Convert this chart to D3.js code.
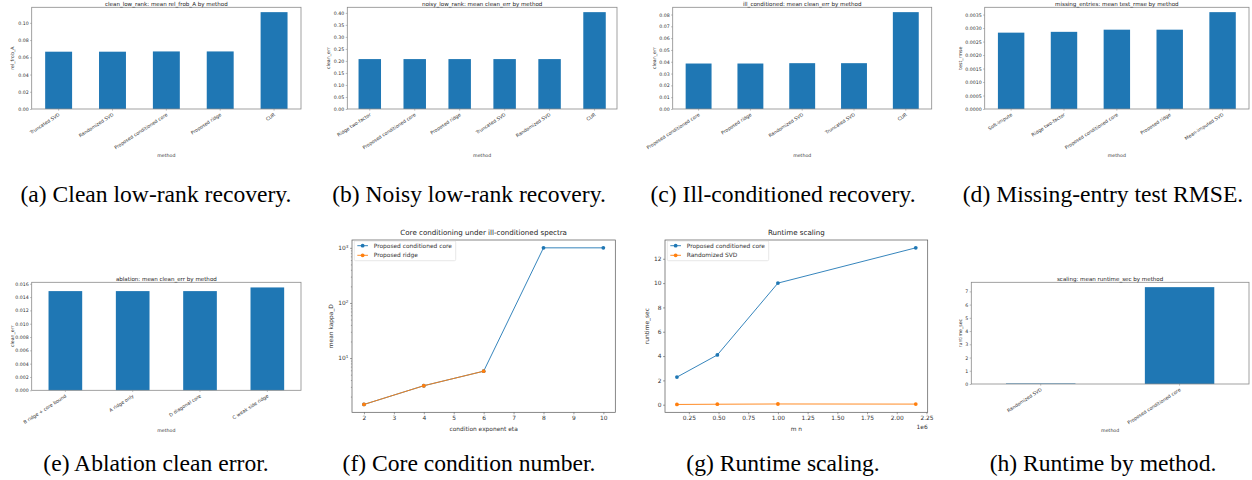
<!DOCTYPE html>
<html>
<head>
<meta charset="utf-8">
<script src="https://cdn.jsdelivr.net/npm/d3@7"></script>
<style>
  html, body { margin: 0; padding: 0; background: #fff; }
  svg { display: block; }
  .cap { font-family: "Liberation Serif", "Times New Roman", serif; font-size: 23.6px; fill: #000; }
</style>
</head>
<body>
<div id="fig"></div>
<script>
// ---- data ----
const cleanMethods = ["Truncated SVD", "Randomized SVD", "Proposed conditioned core", "Proposed ridge", "CUR"];
const cleanRelFrob = [0.0665, 0.0665, 0.0668, 0.0668, 0.1124];

const noisyMethods = ["Ridge two-factor", "Proposed conditioned core", "Proposed ridge", "Truncated SVD", "Randomized SVD", "CUR"];
const noisyCleanErr = [0.2077, 0.2077, 0.2077, 0.2077, 0.2077, 0.403];

const illMethods = ["Proposed conditioned core", "Proposed ridge", "Randomized SVD", "Truncated SVD", "CUR"];
const illCleanErr = [0.0385, 0.0385, 0.0388, 0.0388, 0.082];

const missingMethods = ["Soft-impute", "Ridge two-factor", "Proposed conditioned core", "Proposed ridge", "Mean-imputed SVD"];
const missingRmse = [0.00283, 0.00286, 0.00294, 0.00294, 0.00359];

const ablationMethods = ["B ridge + core bound", "A ridge only", "D diagonal core", "C weak side ridge"];
const ablationCleanErr = [0.0149, 0.0149, 0.0149, 0.01545];

const scalingMethods = ["Randomized SVD", "Proposed conditioned core"];
const scalingRuntime = [0.04, 7.32];

const etaValues = [2, 4, 6, 8, 10];
const kappaCore = [1.44, 3.15, 5.78, 1000, 1000];
const kappaRidge = [1.44, 3.15, 5.78];

const mnValues = [0.15e6, 0.49e6, 1.0e6, 2.16e6];
const runtimeCore = [2.27, 4.09, 10.0, 12.9];
const runtimeRsvd = [0.02, 0.04, 0.06, 0.05];

const captionsTop = ["(a) Clean low-rank recovery.", "(b) Noisy low-rank recovery.", "(c) Ill-conditioned recovery.", "(d) Missing-entry test RMSE."];
const captionsBottom = ["(e) Ablation clean error.", "(f) Core condition number.", "(g) Runtime scaling.", "(h) Runtime by method."];

const BLUE = "#1f77b4", ORANGE = "#ff7f0e";
const SANS = "DejaVu Sans, sans-serif";

const W = 1252, H = 480;
const svg = d3.select("#fig").append("svg").attr("width", W).attr("height", H);

// ---- small bar panels (pandas style) ----
function barPanel(o) {
  const g = svg.append("g");
  const f = o.frame;
  const x = d3.scaleBand().domain(o.cats).range([f.x0, f.x1])
    .paddingInner(0.5).paddingOuter(0.25);
  const y = d3.scaleLinear().domain([0, d3.max(o.vals) * 1.05]).range([f.y1, f.y0]);

  g.selectAll("rect.bar").data(o.cats).enter().append("rect")
    .attr("x", (d) => x(d))
    .attr("y", (d, i) => y(o.vals[i]))
    .attr("width", x.bandwidth())
    .attr("height", (d, i) => y(0) - y(o.vals[i]))
    .attr("fill", BLUE);

  const ticks = d3.range(0, o.tickMax + o.tickStep / 2, o.tickStep);
  const ya = g.append("g").attr("transform", `translate(${f.x0},0)`)
    .call(d3.axisLeft(y).tickValues(ticks).tickFormat(d3.format(o.fmt)).tickSize(1.6).tickPadding(1.4));
  ya.select(".domain").remove();
  ya.selectAll("line").attr("stroke", "#555").attr("stroke-width", 0.4);
  ya.selectAll("text").style("font-family", SANS).style("font-size", "4.7px").attr("fill", "#333");

  const xa = g.append("g").attr("transform", `translate(0,${f.y1})`)
    .call(d3.axisBottom(x).tickSize(1.6).tickFormat(""));
  xa.select(".domain").remove();
  xa.selectAll("line").attr("stroke", "#555").attr("stroke-width", 0.4);

  g.selectAll("text.xl").data(o.cats).enter().append("text")
    .attr("class", "xl")
    .attr("transform", (d) => `translate(${x(d) + x.bandwidth() / 2 + 1.5},${f.y1 + 6.5}) rotate(-33)`)
    .attr("text-anchor", "end")
    .style("font-family", SANS).style("font-size", "4.7px").attr("fill", "#333")
    .text((d) => d);

  g.append("rect").attr("x", f.x0).attr("y", f.y0)
    .attr("width", f.x1 - f.x0).attr("height", f.y1 - f.y0)
    .attr("fill", "none").attr("stroke", "#8a8a8a").attr("stroke-width", 0.8);

  g.append("text").attr("x", (f.x0 + f.x1) / 2).attr("y", f.y0 - 1.6)
    .attr("text-anchor", "middle")
    .style("font-family", SANS).style("font-size", "5.55px").attr("fill", "#222")
    .text(o.title);

  g.append("text").attr("x", (f.x0 + f.x1) / 2).attr("y", o.xlabelY)
    .attr("text-anchor", "middle")
    .style("font-family", SANS).style("font-size", "4.7px").attr("fill", "#333")
    .text("method");

  g.append("text")
    .attr("transform", `translate(${o.ylabelX},${(f.y0 + f.y1) / 2}) rotate(-90)`)
    .attr("text-anchor", "middle")
    .style("font-family", SANS).style("font-size", "4.7px").attr("fill", "#333")
    .text(o.ylabel);
}

barPanel({ title: "clean_low_rank: mean rel_frob_A by method", ylabel: "rel_frob_A",
  cats: cleanMethods, vals: cleanRelFrob, tickStep: 0.02, tickMax: 0.10, fmt: ".2f",
  frame: { x0: 31.7, x1: 301, y0: 7.3, y1: 109 }, xlabelY: 156.5, ylabelX: 14.3 });

barPanel({ title: "noisy_low_rank: mean clean_err by method", ylabel: "clean_err",
  cats: noisyMethods, vals: noisyCleanErr, tickStep: 0.05, tickMax: 0.40, fmt: ".2f",
  frame: { x0: 347.3, x1: 617, y0: 7.3, y1: 109 }, xlabelY: 156.5, ylabelX: 329.6 });

barPanel({ title: "ill_conditioned: mean clean_err by method", ylabel: "clean_err",
  cats: illMethods, vals: illCleanErr, tickStep: 0.01, tickMax: 0.08, fmt: ".2f",
  frame: { x0: 672.7, x1: 931.7, y0: 7.3, y1: 109 }, xlabelY: 156.5, ylabelX: 655.9 });

barPanel({ title: "missing_entries: mean test_rmse by method", ylabel: "test_rmse",
  cats: missingMethods, vals: missingRmse, tickStep: 0.0005, tickMax: 0.0035, fmt: ".4f",
  frame: { x0: 984.7, x1: 1249, y0: 7.3, y1: 109 }, xlabelY: 156.5, ylabelX: 962.3 });

barPanel({ title: "ablation: mean clean_err by method", ylabel: "clean_err",
  cats: ablationMethods, vals: ablationCleanErr, tickStep: 0.002, tickMax: 0.016, fmt: ".3f",
  frame: { x0: 31.7, x1: 301, y0: 282.3, y1: 390.3 }, xlabelY: 431.5, ylabelX: 14.3 });

barPanel({ title: "scaling: mean runtime_sec by method", ylabel: "runtime_sec",
  cats: scalingMethods, vals: scalingRuntime, tickStep: 1, tickMax: 7, fmt: "d",
  frame: { x0: 971.3, x1: 1249, y0: 282.3, y1: 384 }, xlabelY: 431.5, ylabelX: 962.3 });

// ---- line panels ----
function linePanel(o) {
  const g = svg.append("g");
  const f = o.frame;
  const FS = "5.9px";

  // matplotlib-like 5% margins
  const allX = o.series.flatMap((s) => s.x);
  const allY = o.series.flatMap((s) => s.y);
  const [xa0, xa1] = d3.extent(allX);
  const xm = (xa1 - xa0) * 0.05;
  const x = d3.scaleLinear().domain([xa0 - xm, xa1 + xm]).range([f.x0, f.x1]);
  let y;
  if (o.log) {
    const [l0, l1] = d3.extent(allY).map(Math.log10);
    const lm = (l1 - l0) * 0.05;
    y = d3.scaleLog().domain([10 ** (l0 - lm), 10 ** (l1 + lm)]).range([f.y1, f.y0]);
  } else {
    const [ya0, ya1] = d3.extent(allY);
    const ym = (ya1 - ya0) * 0.05;
    y = d3.scaleLinear().domain([ya0 - ym, ya1 + ym]).range([f.y1, f.y0]);
  }

  // x axis
  const xa = g.append("g").attr("transform", `translate(0,${f.y1})`)
    .call(d3.axisBottom(x).tickValues(o.xticks).tickFormat(o.xfmt).tickSize(2).tickPadding(1.6));
  xa.select(".domain").remove();
  xa.selectAll("line").attr("stroke", "#444").attr("stroke-width", 0.5);
  xa.selectAll("text").style("font-family", SANS).style("font-size", FS).attr("fill", "#333");

  // y axis
  if (o.log) {
    const [d0, d1] = y.domain();
    const minor = [];
    for (let e = Math.floor(Math.log10(d0)); e <= Math.ceil(Math.log10(d1)); e++) {
      for (let m = 2; m <= 9; m++) {
        const v = m * 10 ** e;
        if (v >= d0 && v <= d1) minor.push(v);
      }
    }
    const ym = g.append("g").attr("transform", `translate(${f.x0},0)`)
      .call(d3.axisLeft(y).tickValues(minor).tickFormat("").tickSize(1.1));
    ym.select(".domain").remove();
    ym.selectAll("line").attr("stroke", "#444").attr("stroke-width", 0.4);

    const major = o.yticks;
    const yaM = g.append("g").attr("transform", `translate(${f.x0},0)`)
      .call(d3.axisLeft(y).tickValues(major).tickFormat("").tickSize(2));
    yaM.select(".domain").remove();
    yaM.selectAll("line").attr("stroke", "#444").attr("stroke-width", 0.5);
    const lbl = g.selectAll("text.ylog").data(major).enter().append("text")
      .attr("class", "ylog")
      .attr("x", f.x0 - 3.6).attr("y", (d) => y(d) + 2.1)
      .attr("text-anchor", "end")
      .style("font-family", SANS).style("font-size", FS).attr("fill", "#333");
    lbl.append("tspan").text("10");
    lbl.append("tspan").attr("dy", -2.4).style("font-size", "4.2px")
      .text((d) => Math.round(Math.log10(d)));
  } else {
    const ya = g.append("g").attr("transform", `translate(${f.x0},0)`)
      .call(d3.axisLeft(y).tickValues(o.yticks).tickFormat(d3.format("d")).tickSize(2).tickPadding(1.6));
    ya.select(".domain").remove();
    ya.selectAll("line").attr("stroke", "#444").attr("stroke-width", 0.5);
    ya.selectAll("text").style("font-family", SANS).style("font-size", FS).attr("fill", "#333");
  }

  // series
  const line = d3.line().x((d) => x(d[0])).y((d) => y(d[1]));
  o.series.forEach((s) => {
    const pts = s.x.map((v, i) => [v, s.y[i]]);
    g.append("path").datum(pts).attr("d", line)
      .attr("fill", "none").attr("stroke", s.color).attr("stroke-width", 0.9);
    g.selectAll(null).data(pts).enter().append("circle")
      .attr("cx", (d) => x(d[0])).attr("cy", (d) => y(d[1]))
      .attr("r", 1.9).attr("fill", s.color);
  });

  // frame
  g.append("rect").attr("x", f.x0).attr("y", f.y0)
    .attr("width", f.x1 - f.x0).attr("height", f.y1 - f.y0)
    .attr("fill", "none").attr("stroke", "#555").attr("stroke-width", 0.7);

  // legend
  const lg = g.append("g").attr("transform", `translate(${f.x0 + 2.3},${f.y0 + 1})`);
  lg.append("rect").attr("width", 101.4).attr("height", 19.7).attr("rx", 1.2)
    .attr("fill", "#fff").attr("fill-opacity", 0.8).attr("stroke", "#d0d0d0").attr("stroke-width", 0.5);
  o.series.forEach((s, i) => {
    const cy = 4.7 + i * 9.6;
    lg.append("line").attr("x1", 3).attr("x2", 13.7).attr("y1", cy).attr("y2", cy)
      .attr("stroke", s.color).attr("stroke-width", 0.9);
    lg.append("circle").attr("cx", 8.35).attr("cy", cy).attr("r", 1.9).attr("fill", s.color);
    lg.append("text").attr("x", 19.4).attr("y", cy + 2.1)
      .style("font-family", SANS).style("font-size", FS).attr("fill", "#333")
      .text(s.name);
  });

  g.append("text").attr("x", (f.x0 + f.x1) / 2).attr("y", f.y0 - 5)
    .attr("text-anchor", "middle")
    .style("font-family", SANS).style("font-size", "7.1px").attr("fill", "#222")
    .text(o.title);
  g.append("text").attr("x", (f.x0 + f.x1) / 2).attr("y", f.y1 + 19)
    .attr("text-anchor", "middle")
    .style("font-family", SANS).style("font-size", FS).attr("fill", "#333")
    .text(o.xlabel);
  g.append("text")
    .attr("transform", `translate(${o.ylabelX},${(f.y0 + f.y1) / 2}) rotate(-90)`)
    .attr("text-anchor", "middle")
    .style("font-family", SANS).style("font-size", FS).attr("fill", "#333")
    .text(o.ylabel);
  if (o.offset) {
    g.append("text").attr("x", f.x1).attr("y", f.y1 + 17)
      .attr("text-anchor", "end")
      .style("font-family", SANS).style("font-size", FS).attr("fill", "#333")
      .text(o.offset);
  }
}

linePanel({
  title: "Core conditioning under ill-conditioned spectra",
  xlabel: "condition exponent eta", ylabel: "mean kappa_D", ylabelX: 333.2,
  frame: { x0: 352, x1: 615.3, y0: 240, y1: 412.3 },
  log: true, yticks: [10, 100, 1000],
  xticks: d3.range(2, 11), xfmt: d3.format("d"),
  series: [
    { name: "Proposed conditioned core", color: BLUE, x: etaValues, y: kappaCore },
    { name: "Proposed ridge", color: ORANGE, x: etaValues.slice(0, kappaRidge.length), y: kappaRidge },
  ],
});

linePanel({
  title: "Runtime scaling",
  xlabel: "m n", ylabel: "runtime_sec", ylabelX: 648.8,
  frame: { x0: 665, x1: 927.7, y0: 240, y1: 412.3 },
  log: false, yticks: d3.range(0, 13, 2),
  xticks: d3.range(0.25e6, 2.26e6, 0.25e6), xfmt: (d) => (d / 1e6).toFixed(2),
  offset: "1e6",
  series: [
    { name: "Proposed conditioned core", color: BLUE, x: mnValues, y: runtimeCore },
    { name: "Randomized SVD", color: ORANGE, x: mnValues, y: runtimeRsvd },
  ],
});

// ---- captions ----
const colCenters = [156, 469, 783, 1103];
svg.selectAll("text.capTop").data(captionsTop).enter().append("text")
  .attr("class", "cap").attr("x", (d, i) => colCenters[i]).attr("y", 202)
  .attr("text-anchor", "middle").text((d) => d);
svg.selectAll("text.capBot").data(captionsBottom).enter().append("text")
  .attr("class", "cap").attr("x", (d, i) => colCenters[i]).attr("y", 471)
  .attr("text-anchor", "middle").text((d) => d);
</script>
</body>
</html>
